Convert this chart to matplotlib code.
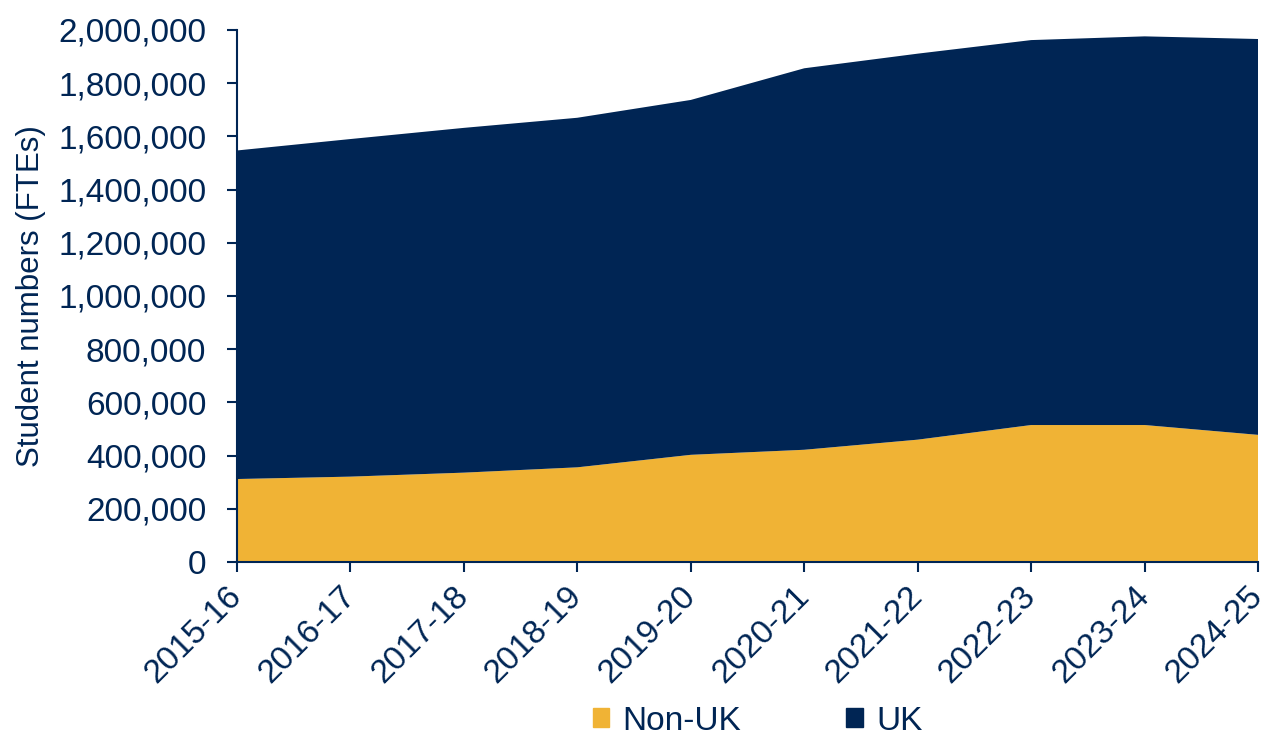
import matplotlib.pyplot as plt
from matplotlib.ticker import FuncFormatter
import numpy as np

# datos
years = ["2015-16", "2016-17", "2017-18", "2018-19", "2019-20",
         "2020-21", "2021-22", "2022-23", "2023-24", "2024-25"]
non_uk = [312000, 321000, 336000, 356000, 403000,
          422000, 460000, 515000, 515000, 478000]
total = [1547000, 1590000, 1632000, 1670000, 1737000,
         1856000, 1911000, 1962000, 1976000, 1966000]
uk = [t - n for t, n in zip(total, non_uk)]

navy = "#002554"
gold = "#F0B335"

plt.rcParams['font.family'] = ['Liberation Sans', 'DejaVu Sans']

fig = plt.figure(figsize=(12.67, 7.4), dpi=100)
ax = fig.add_axes([0.187, 0.2405, 0.806, 0.719])

x = np.arange(len(years))
ax.stackplot(x, non_uk, uk, colors=[gold, navy], labels=["Non-UK", "UK"], linewidth=0)

ax.set_xlim(0, len(years) - 1)
ax.set_ylim(0, 2000000)
ax.set_yticks(np.arange(0, 2000001, 200000))
ax.yaxis.set_major_formatter(FuncFormatter(lambda v, p: f"{int(v):,}"))
ax.set_xticks(x)
ax.set_xticklabels(years, rotation=45, ha="right", va="center", rotation_mode="anchor")

for s in ["top", "right"]:
    ax.spines[s].set_visible(False)
for s in ["left", "bottom"]:
    ax.spines[s].set_color(navy)
    ax.spines[s].set_linewidth(1.5)

ax.tick_params(axis="both", colors=navy, labelcolor=navy, labelsize=24,
               direction="out", length=7, width=1.5)
ax.tick_params(axis="y", pad=15)
ax.tick_params(axis="x", pad=14)
ax.set_ylabel("Student numbers (FTEs)", color=navy, fontsize=22.5, labelpad=9)

handles = [plt.Rectangle((0, 0), 1, 1, color=gold), plt.Rectangle((0, 0), 1, 1, color=navy)]
fig.legend(handles, ["Non-UK", "UK"], loc="lower center", ncol=2, frameon=False,
           bbox_to_anchor=(0.598, -0.036), fontsize=24, labelcolor=navy,
           handlelength=0.5, handleheight=0.5, handletextpad=0.4, columnspacing=3.15)

fig.savefig("out.png", dpi=100)
